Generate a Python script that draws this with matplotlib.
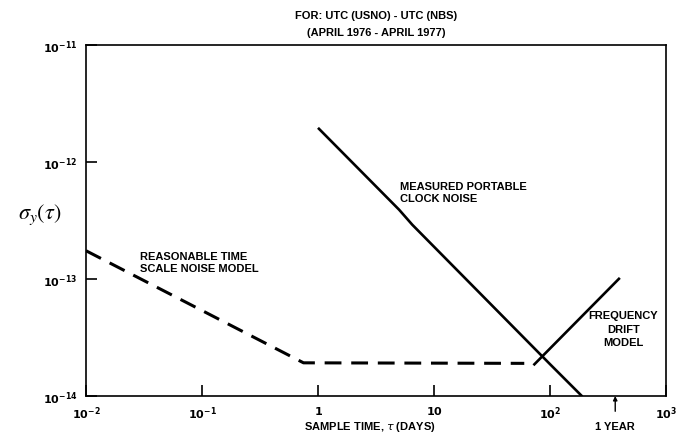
import numpy as np
import matplotlib
matplotlib.use("Agg")
import matplotlib.pyplot as plt

# data (tau in days, sigma_y dimensionless)
measured_tau = [1.0, 5.0, 6.5, 100.0, 190.0]
measured_sigma = [1.95e-12, 3.9e-13, 2.9e-13, 1.87e-14, 9.9e-15]

model_tau = [0.01, 0.75, 60.0]
model_sigma = [1.74e-13, 1.92e-14, 1.9e-14]

drift_tau = [72.0, 400.0]
drift_sigma = [1.83e-14, 1.02e-13]

xticks = [1e-2, 1e-1, 1, 10, 1e2, 1e3]
xtick_labels = [r'$\mathbf{10^{-2}}$', r'$\mathbf{10^{-1}}$', r'$\mathbf{1}$',
                r'$\mathbf{10}$', r'$\mathbf{10^{2}}$', r'$\mathbf{10^{3}}$']
yticks = [1e-14, 1e-13, 1e-12, 1e-11]
ytick_labels = [r'$\mathbf{10^{-14}}$', r'$\mathbf{10^{-13}}$',
                r'$\mathbf{10^{-12}}$', r'$\mathbf{10^{-11}}$']

year_days = 365.0

plt.rcParams['font.family'] = ['Liberation Sans', 'DejaVu Sans']

fig = plt.figure(figsize=(6.77, 4.35), dpi=100)
ax = fig.add_axes([86 / 677, 1 - 397 / 435, 580 / 677, (397 - 45.7) / 435])

ax.plot(measured_tau, measured_sigma, color='black', lw=1.9, solid_capstyle='butt')
ax.plot(model_tau, model_sigma, color='black', lw=2.2, dashes=(5.5, 3.2))
ax.plot(drift_tau, drift_sigma, color='black', lw=1.9, solid_capstyle='butt')

ax.set_xscale('log')
ax.set_yscale('log')
ax.set_xlim(1e-2, 1e3)
ax.set_ylim(1e-14, 1e-11)
ax.set_xticks(xticks)
ax.set_xticklabels(xtick_labels, fontsize=8)
ax.set_yticks(yticks)
ax.set_yticklabels(ytick_labels, fontsize=8)
ax.minorticks_off()
ax.tick_params(direction='in', length=8, width=1.2, pad=6)
for s in ax.spines.values():
    s.set_linewidth(1.2)

# 1 year marker below the axis
ax.annotate('', xy=(year_days, 1e-14), xycoords='data',
            xytext=(0, -11), textcoords='offset points',
            arrowprops=dict(arrowstyle='-|>', color='black', lw=1.0,
                            mutation_scale=6, shrinkA=0, shrinkB=0))

txt = dict(fontsize=8, fontweight='bold', color='black')
fig.text(615 / 677, 1 - 427 / 435, '1 YEAR', ha='center', va='center', **txt)
ax.text(0.029, 1.4e-13, 'REASONABLE TIME\nSCALE NOISE MODEL', ha='left', va='center',
        linespacing=1.3, **txt)
ax.text(5.1, 5.5e-13, 'MEASURED PORTABLE\nCLOCK NOISE', ha='left', va='center',
        linespacing=1.3, **txt)
ax.text(427, 3.76e-14, 'FREQUENCY\nDRIFT\nMODEL', ha='center', va='center',
        linespacing=1.45, **txt)

fig.text(376 / 677, 1 - 16 / 435, 'FOR: UTC (USNO) - UTC (NBS)', ha='center', va='center', **txt)
fig.text(376 / 677, 1 - 33 / 435, '(APRIL 1976 - APRIL 1977)', ha='center', va='center', **txt)
fig.text(370 / 677, 1 - 427 / 435, r'SAMPLE TIME, $\tau$ (DAYS)', ha='center', va='center',
         **txt)
fig.text(40 / 677, 1 - 215 / 435, r'$\sigma_y(\tau)$', ha='center', va='center',
         fontsize=16, math_fontfamily='stix')

fig.savefig('out.png', dpi=100)
